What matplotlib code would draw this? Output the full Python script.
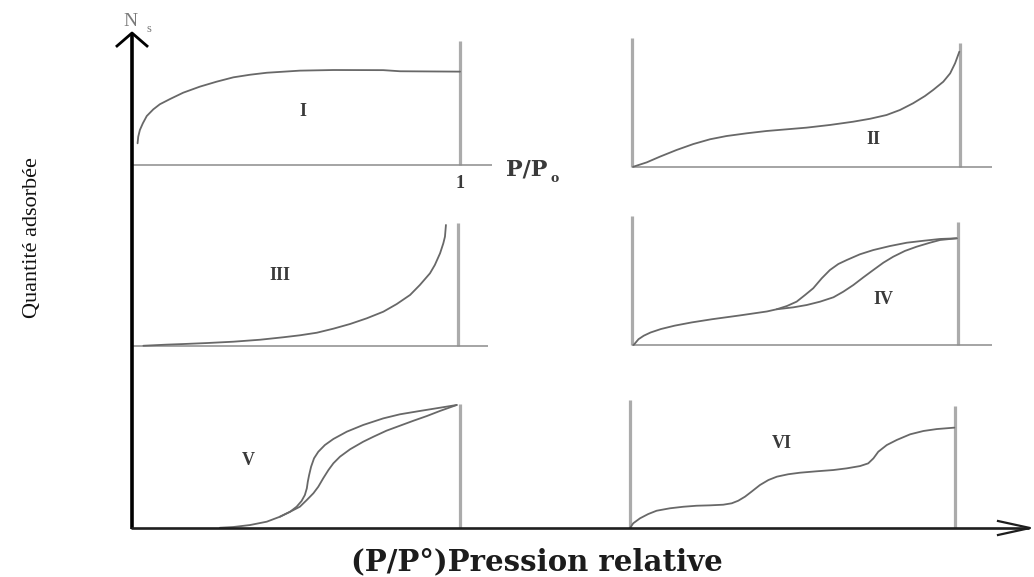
import numpy as np
import matplotlib
matplotlib.use('Agg')
import matplotlib.pyplot as plt

# Isotherm shapes (x = P/P0, y = amount adsorbed, scaled to each panel frame)
x_I = [0.017, 0.019, 0.024, 0.033, 0.045, 0.065, 0.085, 0.116, 0.156, 0.207,
       0.258, 0.309, 0.360, 0.411, 0.512, 0.614, 0.766, 0.817, 1.0]
y_I = [0.175, 0.228, 0.282, 0.336, 0.395, 0.449, 0.490, 0.532, 0.583, 0.632,
       0.672, 0.707, 0.728, 0.744, 0.761, 0.766, 0.765, 0.756, 0.753]

x_II = [0.004, 0.045, 0.085, 0.136, 0.187, 0.238, 0.288, 0.349, 0.410, 0.471, 0.532,
        0.604, 0.674, 0.726, 0.776, 0.817, 0.857, 0.893, 0.918, 0.949, 0.970, 0.985, 0.998]
y_II = [0.002, 0.036, 0.080, 0.132, 0.178, 0.215, 0.240, 0.261, 0.279, 0.292, 0.305,
        0.326, 0.351, 0.374, 0.403, 0.442, 0.494, 0.550, 0.597, 0.661, 0.726, 0.804, 0.894]

x_III = [0.035, 0.106, 0.157, 0.229, 0.311, 0.393, 0.464, 0.515, 0.567, 0.618, 0.669,
         0.720, 0.771, 0.812, 0.853, 0.883, 0.914, 0.929, 0.945, 0.955, 0.960, 0.963]
y_III = [0.002, 0.011, 0.016, 0.024, 0.035, 0.051, 0.071, 0.087, 0.108, 0.141, 0.179,
         0.225, 0.279, 0.341, 0.415, 0.496, 0.591, 0.659, 0.754, 0.835, 0.889, 0.984]

x_IV_ads = [0.005, 0.010, 0.020, 0.036, 0.057, 0.089, 0.131, 0.183, 0.246, 0.330, 0.414,
            0.444, 0.495, 0.536, 0.577, 0.618, 0.648, 0.679, 0.710, 0.740, 0.771, 0.801,
            0.837, 0.873, 0.914, 0.945, 0.996]
y_IV_ads = [0.0, 0.015, 0.045, 0.072, 0.097, 0.124, 0.150, 0.175, 0.200, 0.229, 0.260,
            0.277, 0.292, 0.310, 0.336, 0.370, 0.413, 0.465, 0.525, 0.581, 0.638, 0.684,
            0.729, 0.762, 0.793, 0.814, 0.827]
x_IV_des = [0.444, 0.475, 0.505, 0.531, 0.556, 0.582, 0.607, 0.633, 0.659, 0.699, 0.740,
            0.791, 0.843, 0.894, 0.945, 0.996]
y_IV_des = [0.277, 0.302, 0.336, 0.388, 0.440, 0.517, 0.581, 0.628, 0.659, 0.703, 0.736,
            0.767, 0.793, 0.808, 0.822, 0.827]

x_V_ads = [0.268, 0.309, 0.360, 0.411, 0.451, 0.482, 0.512, 0.533, 0.553, 0.568, 0.583,
           0.599, 0.614, 0.634, 0.665, 0.705, 0.736, 0.776, 0.817, 0.858, 0.899, 0.939, 0.990]
y_V_ads = [0.002, 0.008, 0.024, 0.051, 0.091, 0.131, 0.172, 0.226, 0.280, 0.333, 0.401,
           0.468, 0.522, 0.575, 0.635, 0.696, 0.736, 0.785, 0.825, 0.865, 0.903, 0.944, 0.992]
x_V_des = [0.451, 0.482, 0.502, 0.517, 0.527, 0.533, 0.536, 0.540, 0.546, 0.555, 0.568,
           0.588, 0.614, 0.655, 0.705, 0.766, 0.817, 0.878, 0.939, 0.990]
y_V_des = [0.091, 0.131, 0.172, 0.218, 0.266, 0.320, 0.374, 0.427, 0.494, 0.562, 0.615,
           0.669, 0.718, 0.777, 0.831, 0.884, 0.917, 0.944, 0.970, 0.992]

x_VI = [0.0, 0.010, 0.031, 0.056, 0.082, 0.123, 0.164, 0.205, 0.246, 0.287, 0.313,
        0.333, 0.354, 0.374, 0.400, 0.426, 0.452, 0.487, 0.523, 0.574, 0.626, 0.667,
        0.708, 0.733, 0.749, 0.764, 0.790, 0.821, 0.862, 0.903, 0.944, 0.998]
y_VI = [0.0, 0.037, 0.076, 0.109, 0.135, 0.154, 0.166, 0.174, 0.177, 0.182, 0.193,
        0.213, 0.245, 0.284, 0.336, 0.375, 0.401, 0.420, 0.432, 0.443, 0.453, 0.466,
        0.484, 0.505, 0.544, 0.596, 0.648, 0.688, 0.732, 0.758, 0.773, 0.784]

W, H = 1034, 577
fig = plt.figure(figsize=(W / 100, H / 100), dpi=100)
fig.patch.set_facecolor('white')

CURVE = '#686868'
FRAME = '#ababab'
BASE = '#8c8c8c'
LABEL = '#3a3a3a'


def panel(x0, x1, base, top):
    # axes whose (0,0) sits on the baseline at x0 and (1,1) at (x1, top), in pixels
    w, h = x1 - x0, base - top
    xlo, xhi, ylo, yhi = -0.1, 1.2, -0.1, 1.1
    ax = fig.add_axes([(x0 + xlo * w) / W, 1 - (base - ylo * h) / H,
                       (xhi - xlo) * w / W, (yhi - ylo) * h / H])
    ax.set_xlim(xlo, xhi)
    ax.set_ylim(ylo, yhi)
    ax.axis('off')
    return ax


def frame(ax, left=None, right=1.0, base_end=None):
    if left is not None:
        ax.plot([0, 0], [0, left], color=FRAME, lw=2.3, solid_capstyle='butt')
    ax.plot([1, 1], [0, right], color=FRAME, lw=2.3, solid_capstyle='butt')
    if base_end is not None:
        ax.plot([0, base_end], [0, 0], color=BASE, lw=1.1, solid_capstyle='butt')


def curve(ax, x, y):
    ax.plot(x, y, color=CURVE, lw=1.3, solid_joinstyle='round', solid_capstyle='round')


def numeral(ax, x, y, s):
    ax.text(x, y, s, ha='center', va='center', fontsize=13, fontweight='bold',
            family='Liberation Serif', color=LABEL)


ax1 = panel(132, 460, 165, 41)
frame(ax1, right=1.0, base_end=1.098)
curve(ax1, x_I, y_I)
numeral(ax1, 0.521, 0.435, 'I')

ax2 = panel(632, 960, 167, 38)
frame(ax2, left=1.0, right=0.961, base_end=1.098)
curve(ax2, x_II, y_II)
numeral(ax2, 0.735, 0.217, 'II')

ax3 = panel(132, 458, 346, 223)
frame(ax3, right=1.0, base_end=1.092)
curve(ax3, x_III, y_III)
numeral(ax3, 0.454, 0.577, 'III')

ax4 = panel(632, 958, 345, 216)
frame(ax4, left=1.0, right=0.953, base_end=1.105)
curve(ax4, x_IV_ads, y_IV_ads)
curve(ax4, x_IV_des, y_IV_des)
numeral(ax4, 0.770, 0.349, 'IV')

ax5 = panel(132, 460, 528, 404)
frame(ax5, right=1.0)
curve(ax5, x_V_ads, y_V_ads)
curve(ax5, x_V_des, y_V_des)
numeral(ax5, 0.354, 0.548, 'V')

ax6 = panel(630, 955, 528, 400)
frame(ax6, left=1.0, right=0.953)
curve(ax6, x_VI, y_VI)
numeral(ax6, 0.468, 0.664, 'VI')

# main axes drawn on top, in pixel coordinates
ax0 = fig.add_axes([0, 0, 1, 1])
ax0.set_xlim(0, W)
ax0.set_ylim(H, 0)
ax0.axis('off')
ax0.set_zorder(10)
ax0.plot([132, 132], [529, 34], color='black', lw=2.6, solid_capstyle='butt')
ax0.plot([117, 132, 147], [46, 33, 46], color='black', lw=2.0)
ax0.plot([131, 1029], [528, 528], color='#1e1e1e', lw=1.9, solid_capstyle='butt')
ax0.plot([998, 1030, 998], [521, 528, 535], color='#1e1e1e', lw=1.6)

ax0.text(130, 22, 'N', ha='center', va='center', fontsize=14,
         family='Liberation Serif', color='#7a7a7a')
ax0.text(149, 29, 's', ha='center', va='center', fontsize=9,
         family='Liberation Serif', color='#7a7a7a')
ax0.text(460, 183, '1', ha='center', va='center', fontsize=13, fontweight='bold',
         family='Liberation Serif', color=LABEL)
ax0.text(506, 170, 'P/P', ha='left', va='center', fontsize=16, fontweight='bold',
         family='DejaVu Serif', color=LABEL)
ax0.text(555, 178, 'o', ha='center', va='center', fontsize=9, fontweight='bold',
         family='DejaVu Serif', color=LABEL)

ax0.text(33, 238, 'Quantité adsorbée', rotation=90, ha='center', va='center',
         fontsize=16, family='Liberation Serif', color='#111111')
ax0.text(537, 562, '(P/P°)Pression relative', ha='center', va='center',
         fontsize=21, fontweight='bold', family='DejaVu Serif', color='#1c1c1c')

fig.savefig('out.png', dpi=100, facecolor='white')
